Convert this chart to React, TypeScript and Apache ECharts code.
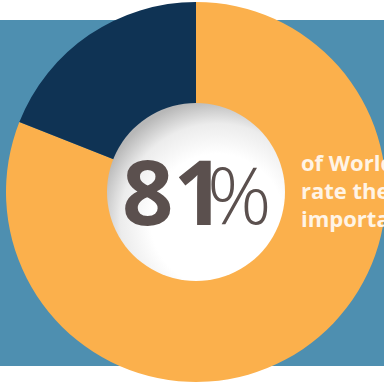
import React, { useEffect, useRef } from "react";
import * as echarts from "echarts";

const categories = ["Rate it important", "Other"];
const values = [81, 19];
const colors = ["#FBB04C", "#0F3354"];
const bigLabel = "81";
const sideLines = ["of World", "rate the", "importance"];

export default function App() {
  const ref = useRef<HTMLDivElement>(null);
  useEffect(() => {
    const chart = echarts.init(ref.current!, null, { renderer: "svg" });
    chart.setOption({
      animation: false,
      backgroundColor: "#ffffff",
      graphic: [
        {
          type: "rect",
          z: -10,
          shape: { x: 0, y: 20, width: 384, height: 346 },
          style: { fill: "#4E8FB0" },
        },
        {
          type: "circle",
          z: 10,
          shape: { cx: 196, cy: 192, r: 89 },
          style: {
            fill: new echarts.graphic.RadialGradient(0.62, 0.66, 0.68, [
              { offset: 0, color: "#ffffff" },
              { offset: 0.55, color: "#ffffff" },
              { offset: 0.8, color: "#ececec" },
              { offset: 1, color: "#b8b8b8" },
            ]),
          },
        },
        {
          type: "text",
          z: 20,
          x: 122,
          y: 190,
          style: {
            text: bigLabel,
            textVerticalAlign: "middle",
            fontSize: 90,
            fontWeight: "bold",
            fontFamily: "Open Sans",
            fill: "#5B504E",
            letterSpacing: -9,
          },
        },
        {
          type: "text",
          z: 21,
          x: 207,
          y: 192,
          style: {
            text: "%",
            textVerticalAlign: "middle",
            fontSize: 80,
            fontWeight: 300,
            fontFamily: "Open Sans",
            fill: "#5B504E",
          },
        },
        {
          type: "text",
          z: 20,
          x: 301,
          y: 190,
          style: {
            text: sideLines.join("\n"),
            textVerticalAlign: "middle",
            fontSize: 22,
            lineHeight: 28,
            fontWeight: "bold",
            fontFamily: "Open Sans",
            fill: "#FFF4E6",
          },
        },
      ],
      series: [
        {
          type: "pie",
          center: [196, 192],
          radius: [88, 190],
          startAngle: 90,
          clockwise: true,
          label: { show: false },
          labelLine: { show: false },
          silent: true,
          itemStyle: { borderWidth: 0 },
          data: categories.map((c, i) => ({ name: c, value: values[i], itemStyle: { color: colors[i] } })),
        },
      ],
    });
    return () => chart.dispose();
  }, []);
  return <div ref={ref} style={{ position: "fixed", left: 0, top: 0, width: 384, height: 383 }} />;
}
